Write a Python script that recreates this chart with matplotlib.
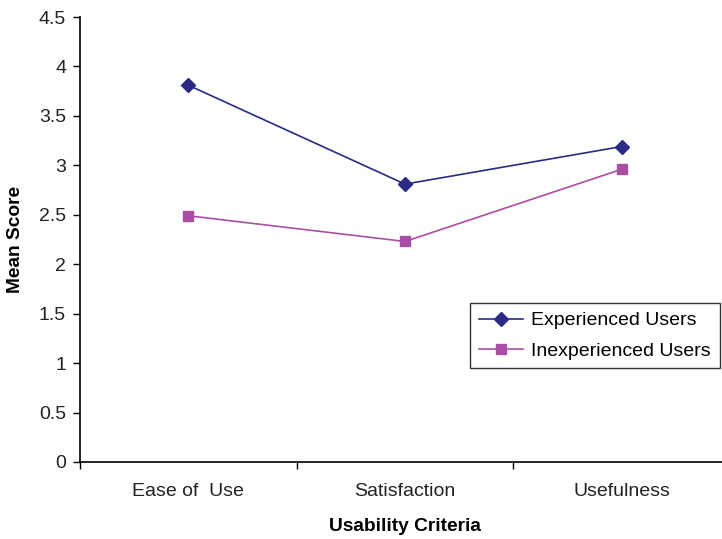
import numpy as np
import matplotlib.pyplot as plt

plt.rcParams['font.family'] = ['Liberation Sans', 'DejaVu Sans']

# mean scores per usability criterion
criteria = ['Ease of  Use', 'Satisfaction', 'Usefulness']
experienced = [3.81, 2.81, 3.19]
inexperienced = [2.49, 2.23, 2.96]

fig = plt.figure(figsize=(7.22, 5.39), dpi=100)
ax = fig.add_axes([80 / 722, 77 / 539, 650 / 722, 445 / 539])

x = np.arange(len(criteria))
ax.plot(x, experienced, color='#2b2a84', marker='D', markersize=7, linewidth=1.2,
        label='Experienced Users')
ax.plot(x, inexperienced, color='#a94fa3', marker='s', markersize=7, linewidth=1.2,
        label='Inexperienced Users')

ax.set_xlim(-0.5, 2.5)
ax.set_ylim(0, 4.5)
ax.set_yticks(np.arange(0, 4.51, 0.5))
ax.set_yticklabels(['0', '0.5', '1', '1.5', '2', '2.5', '3', '3.5', '4', '4.5'])

# category labels sit between the boundary ticks
ax.set_xticks([-0.5, 0.5, 1.5, 2.5])
ax.set_xticklabels([])
ax.set_xticks(x, minor=True)
ax.set_xticklabels(criteria, minor=True)
ax.tick_params(axis='x', which='minor', length=0, pad=15, labelsize=14, colors='#222222')
ax.tick_params(axis='x', which='major', length=5, width=1, direction='out')
ax.tick_params(axis='y', length=5, width=1, direction='out', labelsize=14, pad=5,
               labelcolor='#222222')

for side in ['top', 'right']:
    ax.spines[side].set_visible(False)
ax.spines['left'].set_linewidth(1.2)
ax.spines['bottom'].set_linewidth(1.2)

ax.set_xlabel('Usability Criteria', fontsize=13.8, fontweight='bold', labelpad=13)
ax.set_ylabel('Mean Score', fontsize=13.8, fontweight='bold', labelpad=11)

leg = ax.legend(loc='upper left', bbox_to_anchor=(470 / 722, 1 - 303 / 539),
                bbox_transform=fig.transFigure, borderaxespad=0, fontsize=14,
                frameon=True, fancybox=False, edgecolor='black', borderpad=0.45,
                handlelength=2.3, labelspacing=0.65, handletextpad=0.4)
leg.get_frame().set_linewidth(1.0)

fig.savefig('out.png', dpi=100)
